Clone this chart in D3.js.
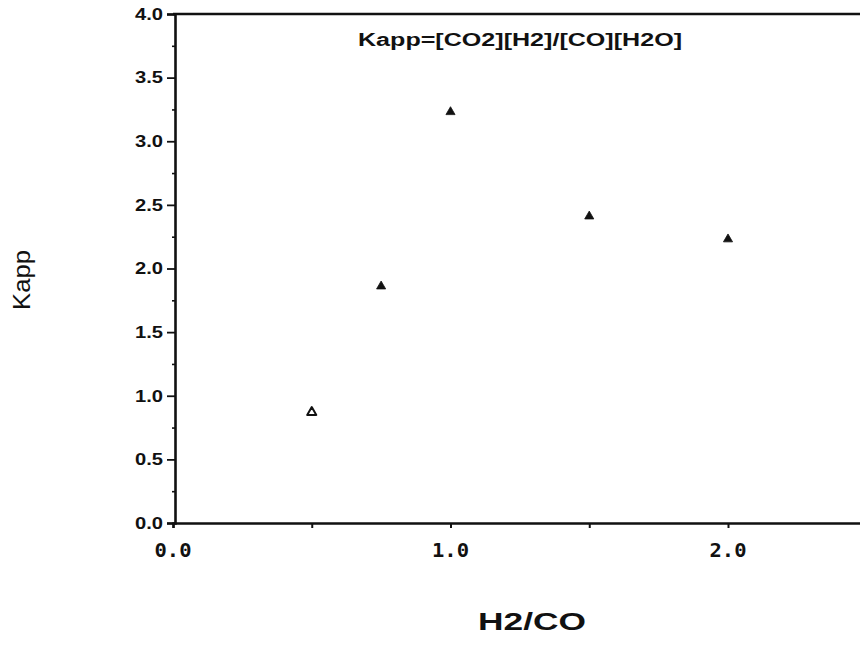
<!DOCTYPE html>
<html>
<head>
<meta charset="utf-8">
<script src="https://cdn.jsdelivr.net/npm/d3@7"></script>
<style>
  html, body { margin: 0; padding: 0; background: #fff; }
  svg { display: block; }
</style>
</head>
<body>
<svg id="chart" width="860" height="649"></svg>
<script>
// H2/CO ratio vs apparent equilibrium constant
const ratios = [0.5, 0.75, 1.0, 1.5, 2.0];
const kappValues = [0.87, 1.86, 3.23, 2.41, 2.23];
const openMarker = [true, false, false, false, false];

const yTickValues = [0, 0.5, 1.0, 1.5, 2.0, 2.5, 3.0, 3.5, 4.0];
const yMinorValues = [0.25, 0.75, 1.25, 1.75, 2.25, 2.75, 3.25, 3.75];
const xTickValues = [0, 0.5, 1.0, 1.5, 2.0, 2.5];
const xLabelValues = [0, 1.0, 2.0];

const titleText = "Kapp=[CO2][H2]/[CO][H2O]";
const xTitle = "H2/CO";
const yTitle = "Kapp";

const svg = d3.select("#chart");
const plotLeft = 175, plotTop = 14, plotBottom = 523;

const x = d3.scaleLinear().domain([0, 2.5]).range([plotLeft - 2, plotLeft - 2 + 2.5 * 277.5]);
const y = d3.scaleLinear().domain([0, 4]).range([plotBottom, plotTop]);

const ink = "#111";
const sans = "Liberation Sans, Arial, sans-serif";

// frame: top line runs off the right edge
svg.append("line").attr("x1", x(0)).attr("x2", 860).attr("y1", y(4)).attr("y2", y(4))
  .attr("stroke", ink).attr("stroke-width", 2.4);

// y axis with major ticks and labels
const yAxis = d3.axisLeft(y).tickValues(yTickValues).tickSize(8).tickPadding(4)
  .tickFormat(d3.format(".1f"));
const gy = svg.append("g").attr("transform", `translate(${plotLeft},0)`).call(yAxis);
gy.select(".domain").attr("stroke", ink).attr("stroke-width", 2.6);
gy.selectAll(".tick line").attr("stroke", ink).attr("stroke-width", 1.8);
gy.selectAll(".tick text").attr("fill", ink)
  .attr("textLength", 28).attr("lengthAdjust", "spacingAndGlyphs")
  .style("font-family", sans)
  .style("font-weight", "bold").style("font-size", "16.5px");

// y minor ticks
const gyMinor = svg.append("g").attr("transform", `translate(${plotLeft},0)`)
  .call(d3.axisLeft(y).tickValues(yMinorValues).tickSize(3).tickFormat(""));
gyMinor.select(".domain").remove();
gyMinor.selectAll(".tick line").attr("stroke", ink).attr("stroke-width", 1.6);

// x axis with ticks pointing down
const xAxis = d3.axisBottom(x).tickValues(xTickValues).tickSize(5).tickFormat("");
const gx = svg.append("g").attr("transform", `translate(0,${plotBottom})`).call(xAxis);
gx.select(".domain").attr("stroke", ink).attr("stroke-width", 2.4);
gx.selectAll(".tick line").attr("stroke", ink).attr("stroke-width", 2);

// x labels in a typewriter face
svg.append("g").selectAll("text").data(xLabelValues).join("text")
  .attr("x", d => x(d)).attr("y", plotBottom + 34)
  .attr("text-anchor", "middle")
  .attr("textLength", 37).attr("lengthAdjust", "spacingAndGlyphs")
  .style("font-family", "DejaVu Sans Mono, Liberation Mono, monospace")
  .style("font-weight", "bold").style("font-size", "19px")
  .attr("fill", ink)
  .text(d => d3.format(".1f")(d));

// markers
const tri = d3.symbol().type(d3.symbolTriangle).size(36);
const pts = ratios.map((r, i) => ({ r, k: kappValues[i], open: openMarker[i] }));
svg.append("g").selectAll("path").data(pts).join("path")
  .attr("d", tri)
  .attr("transform", d => `translate(${x(d.r)},${y(d.k)})`)
  .attr("fill", d => d.open ? "#fff" : ink)
  .attr("stroke", ink)
  .attr("stroke-width", d => d.open ? 2 : 0.8)
  .attr("stroke-linejoin", "round");

// titles
svg.append("text").attr("x", 520).attr("y", 46).attr("text-anchor", "middle")
  .attr("textLength", 324).attr("lengthAdjust", "spacingAndGlyphs")
  .style("font-family", sans)
  .style("font-weight", "bold").style("font-size", "18px")
  .attr("fill", ink).text(titleText);

svg.append("text").attr("x", 532).attr("y", 630).attr("text-anchor", "middle")
  .attr("textLength", 108).attr("lengthAdjust", "spacingAndGlyphs")
  .style("font-family", sans)
  .style("font-weight", "bold").style("font-size", "23px")
  .attr("fill", ink).text(xTitle);

svg.append("text").attr("transform", "translate(30,280) rotate(-90)")
  .attr("text-anchor", "middle")
  .attr("textLength", 60).attr("lengthAdjust", "spacingAndGlyphs")
  .style("font-family", sans)
  .style("font-size", "24px")
  .attr("fill", ink).text(yTitle);
</script>
</body>
</html>
